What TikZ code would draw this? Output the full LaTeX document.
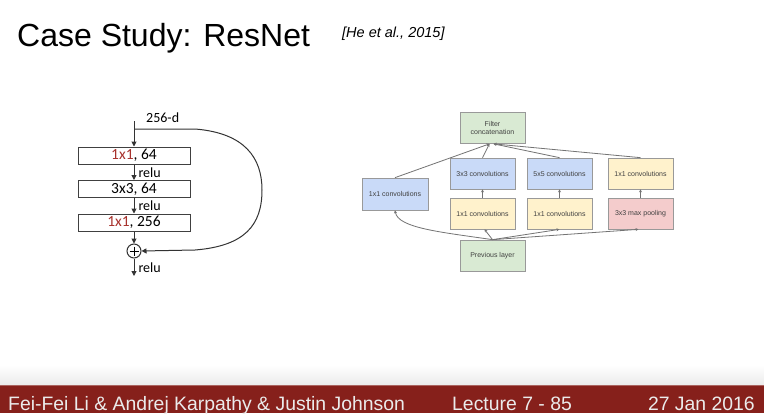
\documentclass[tikz,border=0pt]{standalone}
\usepackage{fontspec}
\setmainfont{Liberation Sans}
\newfontfamily\calibrifont{Carlito}
\usepackage{xcolor}
\usetikzlibrary{arrows.meta,calc,positioning}

\definecolor{slidered}{HTML}{86201B}
\definecolor{kernelred}{HTML}{A8322D}
\definecolor{incblue}{HTML}{C9DAF8}
\definecolor{incyellow}{HTML}{FFF2CC}
\definecolor{incpink}{HTML}{F4CCCC}
\definecolor{incgreen}{HTML}{D9EAD3}

\begin{document}
\begin{tikzpicture}[x=1pt,y=-1pt,
		resbox/.style={draw=black!75, line width=1pt, minimum width=112pt, minimum height=17pt, inner sep=0pt, font=\calibrifont\fontsize{15.5}{16}\selectfont},
		resarrow/.style={draw=black!80, line width=1pt, -{Triangle[length=5pt,width=5pt]}},
		reslabel/.style={font=\calibrifont\fontsize{14}{15}\selectfont, inner sep=0pt, anchor=west},
		incbox/.style={draw=black!40, line width=0.7pt, minimum width=65pt, minimum height=31pt, inner sep=0pt, align=center, font=\fontsize{7}{8}\selectfont, text=black!75},
		incarrow/.style={draw=black!55, line width=0.8pt, -{Stealth[length=3pt,width=3pt]}}
	]
	\useasboundingbox (0,0) rectangle (764,413);
	\fill[white] (0,0) rectangle (764,413);
	
	% Title
	\node[anchor=base west, inner sep=0pt, font=\fontsize{32}{36}\selectfont] (title) at (17,46) {Case Study: ResNet};
	\node[anchor=base west, inner sep=0pt, font=\itshape\fontsize{14.5}{16}\selectfont] (cite) at (342,37) {[He et al., 2015]};
	
	% ResNet Block
	\begin{scope}
		\coordinate (in) at (134,121);
		\coordinate (split) at (134,129);
		\coordinate (out) at (134,276);
		\node[reslabel] (dim) at (146,118) {256-d};
		\node[resbox] (c1) at (134,155.5) {\textcolor{kernelred}{1x1}, 64};
		\node[resbox] (c2) at (134,189) {3x3, 64};
		\node[resbox] (c3) at (134,222.5) {\textcolor{kernelred}{1x1}, 256};
		\node[circle, draw=black!80, line width=1pt, minimum size=14pt, inner sep=0pt] (add) at (134,251) {};
		\draw[line width=1pt] ($(add)+(-4.5,0)$) -- ($(add)+(4.5,0)$) ($(add)+(0,-4.5)$) -- ($(add)+(0,4.5)$);
		\draw[resarrow] (in) -- (c1);
		\draw[resarrow] (c1) -- (c2) node[midway, reslabel, xshift=4pt] {relu};
		\draw[resarrow] (c2) -- (c3) node[midway, reslabel, xshift=4pt] {relu};
		\draw[resarrow] (c3) -- (add);
		\draw[resarrow] (add) -- (out) node[midway, reslabel, xshift=4pt] {relu};
		\draw[resarrow] (split) -- (195,129) .. controls (245,133) and (262,158) .. (262,190) .. controls (262,225) and (245,246) .. (195,250) -- (add.east);
	\end{scope}
	
	% Inception Module
	\begin{scope}
		\node[incbox, fill=incgreen] (concat) at (492.5,128) {Filter\\concatenation};
		\node[incbox, fill=incblue] (c3x3) at (482.5,173.5) {3x3 convolutions};
		\node[incbox, fill=incblue] (c5x5) at (559.5,173.5) {5x5 convolutions};
		\node[incbox, fill=incyellow] (c1x1d) at (640.5,173.5) {1x1 convolutions};
		\node[incbox, fill=incblue, minimum width=66pt, minimum height=32pt] (c1x1a) at (395,194) {1x1 convolutions};
		\node[incbox, fill=incyellow] (c1x1b) at (482.5,213.5) {1x1 convolutions};
		\node[incbox, fill=incyellow] (c1x1c) at (559.5,213.5) {1x1 convolutions};
		\node[incbox, fill=incpink] (pool) at (640.5,213.5) {3x3 max pooling};
		\node[incbox, fill=incgreen] (prev) at (492.5,255.5) {Previous layer};
		
		\draw[incarrow] (prev.north) .. controls (440,232) and (398,228) .. (c1x1a.south);
		\draw[incarrow] (prev.north) -- ([xshift=2pt]c1x1b.south);
		\draw[incarrow] (prev.north) -- (c1x1c.south);
		\draw[incarrow] (prev.north) -- ([xshift=-2pt]pool.south);
		\draw[incarrow] (c1x1b) -- (c3x3);
		\draw[incarrow] (c1x1c) -- (c5x5);
		\draw[incarrow] (pool) -- (c1x1d);
		\draw[incarrow] (c1x1a.north) -- ([xshift=-3pt]concat.south);
		\draw[incarrow] (c3x3.north) -- ([xshift=-3pt]concat.south);
		\draw[incarrow] (c5x5.north) -- ([xshift=1pt]concat.south);
		\draw[incarrow] (c1x1d.north) -- ([xshift=1pt]concat.south);
	\end{scope}
	
	% Footer
	\shade[top color=white, bottom color=black!8] (0,365) rectangle (764,385);
	\fill[slidered] (0,385) rectangle (764,413);
	\draw[slidered!70!white, line width=0.8pt] (0,385.4) -- (764,385.4);
	\node[anchor=base west, inner sep=0pt, text=black!8, font=\fontsize{19.4}{20}\selectfont] (authors) at (8,410) {Fei-Fei Li \& Andrej Karpathy \& Justin Johnson};
	\node[anchor=base west, inner sep=0pt, text=black!8, font=\fontsize{19.4}{20}\selectfont] (lecture) at (452,410) {Lecture 7 - 85};
	\node[anchor=base east, inner sep=0pt, text=black!8, font=\fontsize{19.4}{20}\selectfont] (date) at (755,410) {27 Jan 2016};
	
\end{tikzpicture}
\end{document}
